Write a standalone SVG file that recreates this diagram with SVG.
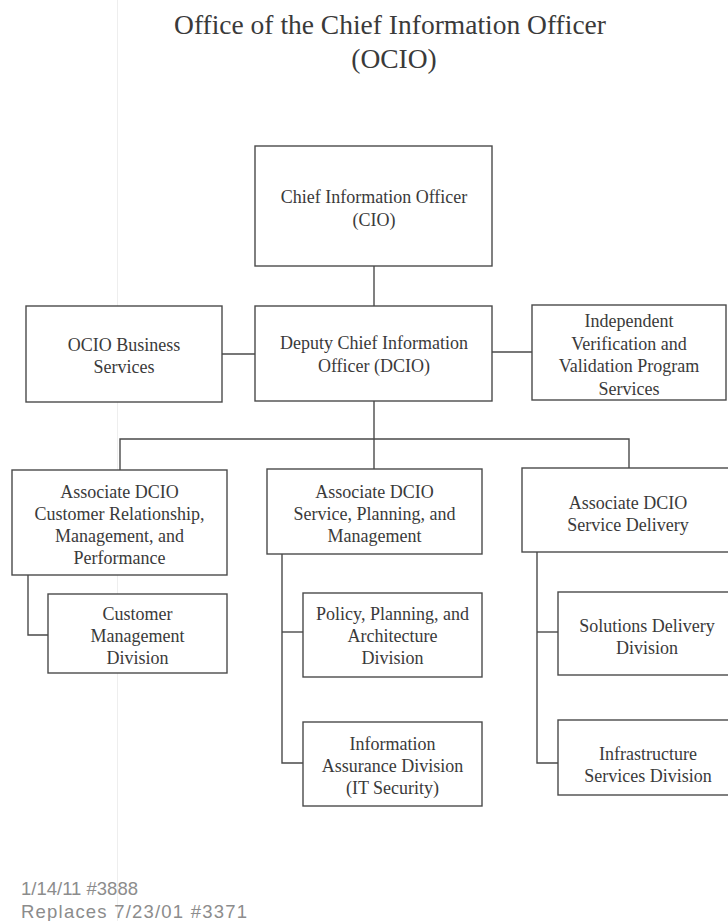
<svg xmlns="http://www.w3.org/2000/svg" width="728" height="921" viewBox="0 0 728 921">
  <style>
    .box { fill: #ffffff; stroke: #4a4a4a; stroke-width: 1.4; }
    .wire { fill: none; stroke: #4a4a4a; stroke-width: 1.4; }
    .lbl { font-family: "Liberation Serif", "Times New Roman", serif; font-size: 18px; fill: #3a3a3a; text-anchor: middle; }
    .title { font-family: "Liberation Serif", "Times New Roman", serif; font-size: 27.5px; fill: #3a3a3a; text-anchor: middle; }
    .note { font-family: "Liberation Sans", Arial, sans-serif; font-size: 18.5px; fill: #8c8c8c; }
  </style>

  <rect x="0" y="0" width="728" height="921" fill="#ffffff"/>
  <!-- faint crease running down the sheet -->
  <line x1="117.5" y1="0" x2="117.5" y2="921" stroke="#eeeeee" stroke-width="1"/>

  <g id="title">
    <text class="title" x="390" y="34">Office of the Chief Information Officer</text>
    <text class="title" x="394" y="68">(OCIO)</text>
  </g>

  <g id="connectors">
    <!-- CIO to DCIO -->
    <line class="wire" x1="374" y1="266" x2="374" y2="306"/>
    <!-- DCIO side offices -->
    <line class="wire" x1="222" y1="354" x2="255" y2="354"/>
    <line class="wire" x1="492" y1="352" x2="532" y2="352"/>
    <!-- DCIO to associate bus -->
    <line class="wire" x1="374" y1="401" x2="374" y2="439"/>
    <polyline class="wire" points="120,470 120,439 629,439 629,468"/>
    <line class="wire" x1="374" y1="439" x2="374" y2="469"/>
    <!-- Customer Relationship branch -->
    <polyline class="wire" points="28,575 28,635 48,635"/>
    <!-- Service, Planning branch -->
    <polyline class="wire" points="282,554 282,763 303,763"/>
    <line class="wire" x1="282" y1="632" x2="303" y2="632"/>
    <!-- Service Delivery branch -->
    <polyline class="wire" points="537,552 537,763 558,763"/>
    <line class="wire" x1="537" y1="632" x2="558" y2="632"/>
  </g>

  <g id="cio">
    <rect class="box" x="255" y="146" width="237" height="120"/>
    <text class="lbl" x="374" y="203">Chief  Information Officer</text>
    <text class="lbl" x="374" y="226">(CIO)</text>
  </g>

  <g id="dcio">
    <rect class="box" x="255" y="306" width="237" height="95"/>
    <text class="lbl" x="374" y="349">Deputy Chief  Information</text>
    <text class="lbl" x="374" y="372">Officer (DCIO)</text>
  </g>

  <g id="ocio-business">
    <rect class="box" x="26" y="306" width="196" height="96"/>
    <text class="lbl" x="124" y="351">OCIO Business</text>
    <text class="lbl" x="124" y="373">Services</text>
  </g>

  <g id="ivv">
    <rect class="box" x="532" y="305" width="194" height="95"/>
    <text class="lbl" x="629" y="327">Independent</text>
    <text class="lbl" x="629" y="350">Verification and</text>
    <text class="lbl" x="629" y="372">Validation Program</text>
    <text class="lbl" x="629" y="395">Services</text>
  </g>

  <g id="assoc-crm">
    <rect class="box" x="12" y="470" width="215" height="105"/>
    <text class="lbl" x="119.5" y="498">Associate DCIO</text>
    <text class="lbl" x="119.5" y="520">Customer Relationship,</text>
    <text class="lbl" x="119.5" y="542">Management, and</text>
    <text class="lbl" x="119.5" y="564">Performance</text>
  </g>

  <g id="customer-mgmt">
    <rect class="box" x="48" y="594" width="179" height="79"/>
    <text class="lbl" x="137.5" y="620">Customer</text>
    <text class="lbl" x="137.5" y="642">Management</text>
    <text class="lbl" x="137.5" y="664">Division</text>
  </g>

  <g id="assoc-spm">
    <rect class="box" x="267" y="469" width="215" height="85"/>
    <text class="lbl" x="374.5" y="498">Associate DCIO</text>
    <text class="lbl" x="374.5" y="520">Service, Planning, and</text>
    <text class="lbl" x="374.5" y="542">Management</text>
  </g>

  <g id="policy">
    <rect class="box" x="303" y="593" width="179" height="84"/>
    <text class="lbl" x="392.5" y="620">Policy, Planning, and</text>
    <text class="lbl" x="392.5" y="642">Architecture</text>
    <text class="lbl" x="392.5" y="664">Division</text>
  </g>

  <g id="info-assurance">
    <rect class="box" x="303" y="722" width="179" height="84"/>
    <text class="lbl" x="392.5" y="750">Information</text>
    <text class="lbl" x="392.5" y="772">Assurance Division</text>
    <text class="lbl" x="392.5" y="794">(IT Security)</text>
  </g>

  <g id="assoc-sd">
    <rect class="box" x="522" y="468" width="214" height="84"/>
    <text class="lbl" x="628" y="509">Associate DCIO</text>
    <text class="lbl" x="628" y="531">Service Delivery</text>
  </g>

  <g id="solutions">
    <rect class="box" x="558" y="592" width="178" height="83"/>
    <text class="lbl" x="647" y="632">Solutions Delivery</text>
    <text class="lbl" x="647" y="654">Division</text>
  </g>

  <g id="infrastructure">
    <rect class="box" x="558" y="720" width="178" height="75"/>
    <text class="lbl" x="648" y="760">Infrastructure</text>
    <text class="lbl" x="648" y="782">Services Division</text>
  </g>

  <g id="footer">
    <text class="note" x="21" y="895" textLength="117" lengthAdjust="spacing">1/14/11 #3888</text>
    <text class="note" x="21" y="918" textLength="226" lengthAdjust="spacing">Replaces 7/23/01 #3371</text>
  </g>
</svg>
